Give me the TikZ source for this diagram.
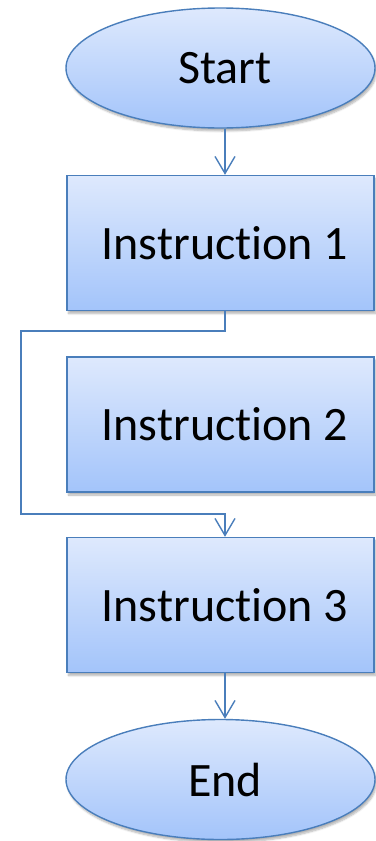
\documentclass[tikz,border=0pt]{standalone}
\usepackage{fontspec}
\setmainfont[Ligatures=NoCommon]{Carlito}
\usetikzlibrary{shapes.geometric,arrows.meta,shadows.blur}
\definecolor{edgeblue}{RGB}{74,126,187}
\definecolor{filltop}{RGB}{222,233,253}
\definecolor{fillbot}{RGB}{163,196,250}
\tikzset{
  base/.style={draw=edgeblue, line width=1.4pt, top color=filltop, bottom color=fillbot,
    font=\fontsize{48}{58}\selectfont, text=black, inner sep=0pt,
    blur shadow={shadow xshift=1.5pt, shadow yshift=-3pt, shadow opacity=30, shadow blur steps=6}},
  term/.style={base, ellipse, minimum width=309pt, minimum height=120pt},
  stepbox/.style={base, rectangle, minimum width=307pt, minimum height=135pt},
  conn/.style={draw=edgeblue, line width=1.4pt, -{Straight Barb[length=17pt,width=20pt,line width=1.4pt]}},
  plain/.style={draw=edgeblue, line width=1.4pt}
}
\begin{document}
\begin{tikzpicture}[x=1pt,y=-1pt]
\useasboundingbox (0,0) rectangle (375,841);
\node[term] (start) at (220.5,68) {\hspace*{9pt}Start};
\node[stepbox] (i1) at (220.5,243) {\hspace*{9pt}Instruction 1};
\node[stepbox] (i2) at (220.5,424.5) {\hspace*{9pt}Instruction 2};
\node[stepbox] (i3) at (220.5,605) {\hspace*{9pt}Instruction 3};
\node[term] (end) at (220.5,779.5) {\hspace*{9pt}End};
\coordinate (ax) at (225,0);
\coordinate (b1) at (21,331);
\coordinate (b2) at (21,514);
\draw[conn] (start.south -| ax) -- (i1.north -| ax);
\draw[conn] (i1.south -| ax) |- (b1) -- (b2) -| (i3.north -| ax);
\draw[conn] (i3.south -| ax) -- (end.north -| ax);
\end{tikzpicture}
\end{document}
